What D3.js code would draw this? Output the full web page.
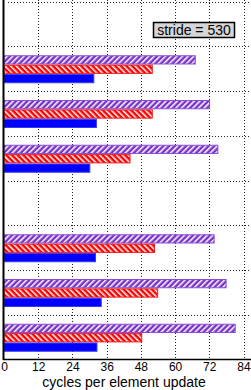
<!DOCTYPE html>
<html>
<head>
<meta charset="utf-8">
<script src="https://cdn.jsdelivr.net/npm/d3@7"></script>
<style>
  body { margin: 0; background: #fff; }
  svg { display: block; font-family: "Liberation Sans", Arial, sans-serif; }
</style>
</head>
<body>
<div id="chart"></div>
<script>
// groups top to bottom, the 1st and 5th slot are empty
const categories = ["g0", "g1", "g2", "g3", "g4", "g5", "g6", "g7"];
const series = ["purple", "red", "blue"];
const purpleValues = [null, 67.1, 72.1, 75.0, null, 73.7, 77.9, 81.1];
const redValues = [null, 52.0, 52.0, 44.2, null, 52.8, 53.9, 48.3];
const blueValues = [null, 31.5, 32.4, 30.1, null, 32.1, 34.1, 32.6];
const xTicks = [0, 12, 24, 36, 48, 60, 72, 84];
const legendText = "stride = 530";
const xTitle = "cycles per element update";

const width = 251;
const height = 390;

const svg = d3.select("#chart").append("svg")
    .attr("width", width)
    .attr("height", height);

// hatch patterns
const defs = svg.append("defs");
function hatch(id, color, angle) {
    const p = defs.append("pattern")
        .attr("id", id)
        .attr("patternUnits", "userSpaceOnUse")
        .attr("width", 4)
        .attr("height", 4)
        .attr("patternTransform", `rotate(${angle})`);
    p.append("rect").attr("width", 4).attr("height", 4).attr("fill", color);
    p.append("rect").attr("width", 1.5).attr("height", 4).attr("fill", "#fff");
}
hatch("hatch-purple", "#7a33c8", 45);
hatch("hatch-red", "#ff0000", -45);

const x = d3.scaleLinear()
    .domain([0, 84])
    .range([4, 243.5]);

const y = d3.scaleBand()
    .domain(categories)
    .range([1.5, 359.5]);

const yInner = d3.scaleBand()
    .domain(series)
    .range([9.5, 36.5])
    .paddingInner(0.12);

// grid
svg.append("g")
    .attr("stroke", "#222")
    .attr("stroke-width", 1)
    .attr("stroke-dasharray", "1,2")
    .selectAll("line.v")
    .data(xTicks.slice(1))
    .join("line")
    .attr("x1", d => Math.round(x(d)) + 0.5)
    .attr("x2", d => Math.round(x(d)) + 0.5)
    .attr("y1", 0)
    .attr("y2", 358);

const boundaries = categories.map(c => y(c));
svg.append("g")
    .attr("stroke", "#222")
    .attr("stroke-width", 1)
    .attr("stroke-dasharray", "1,2")
    .selectAll("line")
    .data(boundaries)
    .join("line")
    .attr("x1", 8)
    .attr("x2", width)
    .attr("y1", d => Math.round(d) + 0.5)
    .attr("y2", d => Math.round(d) + 0.5);

// bars
const rows = [];
categories.forEach((c, i) => {
    [purpleValues, redValues, blueValues].forEach((vals, j) => {
        if (vals[i] != null) rows.push({ cat: c, s: series[j], v: vals[i] });
    });
});

const fills = { purple: "url(#hatch-purple)", red: "url(#hatch-red)", blue: "#0000ff" };
const strokes = { purple: "#8a50d8", red: "#f01818", blue: "#3a3aff" };

svg.append("g")
    .selectAll("rect")
    .data(rows)
    .join("rect")
    .attr("x", x(0))
    .attr("y", d => y(d.cat) + yInner(d.s))
    .attr("width", d => x(d.v) - x(0))
    .attr("height", yInner.bandwidth())
    .attr("fill", d => fills[d.s])
    .attr("stroke", d => strokes[d.s])
    .attr("stroke-width", 1);

// axes
const xAxis = svg.append("g")
    .attr("transform", `translate(0,359.5)`)
    .call(d3.axisBottom(x).tickValues(xTicks).tickSize(0).tickPadding(3));
xAxis.select(".domain")
    .attr("stroke", "#000")
    .attr("stroke-width", 1.5)
    .attr("d", `M3,0H${width}`);
xAxis.selectAll("text")
    .attr("font-size", 12)
    .attr("font-family", "Liberation Sans, Arial, sans-serif")
    .attr("fill", "#000");

svg.append("line")
    .attr("x1", 3.5)
    .attr("x2", 3.5)
    .attr("y1", 0)
    .attr("y2", 360)
    .attr("stroke", "#000")
    .attr("stroke-width", 2);

svg.append("text")
    .attr("x", 124)
    .attr("y", 386.5)
    .attr("text-anchor", "middle")
    .attr("font-size", 14)
    .text(xTitle);

// legend box
svg.append("rect")
    .attr("x", 153.5)
    .attr("y", 22.5)
    .attr("width", 81)
    .attr("height", 15)
    .attr("fill", "#d6d6d6")
    .attr("stroke", "#000")
    .attr("stroke-width", 1.5);

svg.append("text")
    .attr("x", 194)
    .attr("y", 35)
    .attr("text-anchor", "middle")
    .attr("font-size", 14)
    .text(legendText);
</script>
</body>
</html>
